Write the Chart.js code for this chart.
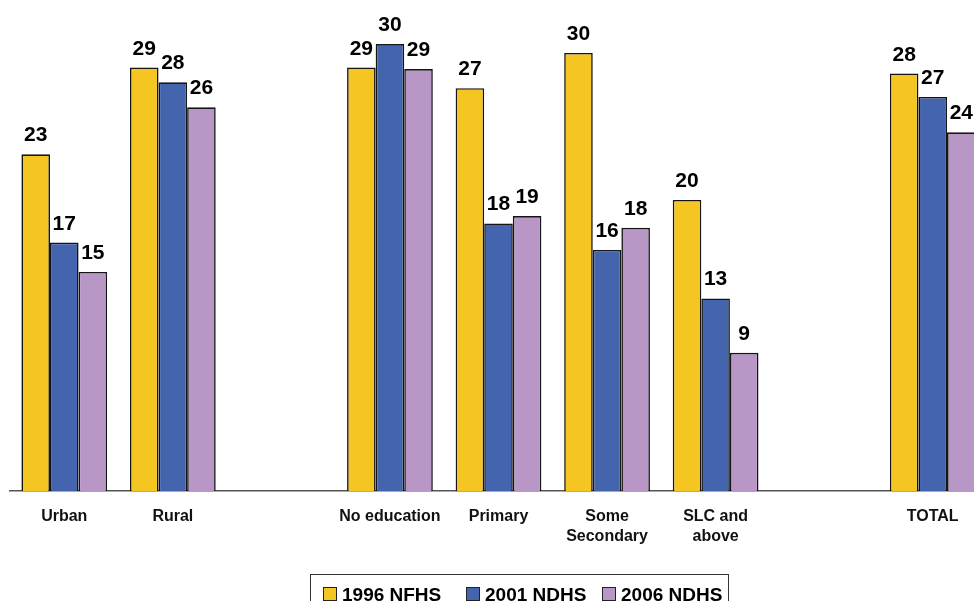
<!DOCTYPE html>
<html>
<head>
<meta charset="utf-8">
<script src="https://cdn.jsdelivr.net/npm/chart.js@4.4.1/dist/chart.umd.min.js"></script>
<style>
    html, body { margin: 0; padding: 0; background: #fff; overflow: hidden; }
    #wrap { position: relative; width: 987px; height: 601px; }
    #legend {
        position: absolute; left: 310px; top: 574px; width: 419px; height: 40px;
        border: 1px solid #333; box-sizing: border-box;
        font: bold 19px "Liberation Sans", Arial, sans-serif; color: #000;
    }
    #legend span.item { position: absolute; top: 9px; white-space: nowrap; }
    #legend i {
        display: inline-block; width: 12px; height: 12px; border: 1px solid #222;
        margin-right: 5px; vertical-align: 0px;
    }
</style>
</head>
<body>
<div id="wrap">
    <canvas id="chart"></canvas>
    <div id="legend"></div>
</div>
<script>
// Categories (empty strings are the spacer slots between groups)
const categories = ['Urban', 'Rural', '', 'No education', 'Primary', ['Some', 'Secondary'], ['SLC and', 'above'], '', 'TOTAL'];

// Series values
const nfhs1996 = [22.9, 28.8, null, 28.8, 27.4, 29.8, 19.8, null, 28.4];
const ndhs2001 = [16.9, 27.8, null, 30.4, 18.2, 16.4, 13.1, null, 26.8];
const ndhs2006 = [14.9, 26.1, null, 28.7, 18.7, 17.9, 9.4, null, 24.4];

const seriesNames = ['1996 NFHS', '2001 NDHS', '2006 NDHS'];

// Colours
const yellow = '#F5C622';
const blue = '#4464AE';
const purple = '#B897C6';
const edge = '#151515';
const font = '"Liberation Sans", Arial, sans-serif';

// Value labels above each bar
const barLabels = {
    id: 'barLabels',
    afterDatasetsDraw(chart) {
        const c = chart.ctx;
        c.save();
        c.font = 'bold 21px ' + font;
        c.fillStyle = '#000';
        c.textAlign = 'center';
        c.textBaseline = 'alphabetic';
        chart.data.datasets.forEach((ds, i) => {
            chart.getDatasetMeta(i).data.forEach((bar, j) => {
                const v = ds.data[j];
                if (v == null) return;
                c.fillText(Math.round(v), bar.x, bar.y - 13);
            });
        });
        c.restore();
    }
};

function drawChart() {
    const ctx = document.getElementById('chart').getContext('2d');
    new Chart(ctx, {
        type: 'bar',
        data: {
            labels: categories,
            datasets: [
                { label: seriesNames[0], data: nfhs1996, backgroundColor: yellow },
                { label: seriesNames[1], data: ndhs2001, backgroundColor: blue },
                { label: seriesNames[2], data: ndhs2006, backgroundColor: purple }
            ].map(d => Object.assign(d, {
                borderColor: edge,
                borderWidth: 1.6,
                categoryPercentage: 0.79,
                barPercentage: 1.0
            }))
        },
        options: {
            responsive: true,
            maintainAspectRatio: false,
            animation: false,
            layout: { padding: { left: 10, right: 0, top: 0, bottom: 0 } },
            scales: {
                x: {
                    grid: { display: false },
                    border: { display: true, color: '#555', width: 1.5 },
                    ticks: {
                        color: '#111',
                        font: { family: font, size: 16, weight: 'bold', lineHeight: 1.25 },
                        padding: 8,
                        maxRotation: 0,
                        autoSkip: false
                    },
                    afterFit: s => { s.height = 110; }
                },
                y: {
                    display: false,
                    min: 0,
                    max: 33.4
                }
            },
            plugins: {
                legend: { display: false },
                tooltip: { enabled: false }
            }
        },
        plugins: [barLabels]
    });
}

// Legend
const legend = document.getElementById('legend');
const swatches = [yellow, blue, purple];
const itemLeft = [12, 155, 291];
seriesNames.forEach((name, i) => {
    const s = document.createElement('span');
    s.className = 'item';
    s.style.left = itemLeft[i] + 'px';
    s.innerHTML = `<i style="background:${swatches[i]}"></i>${name}`;
    legend.appendChild(s);
});

// make sure the font is ready before the canvas text is drawn
document.fonts.load('bold 16px "Liberation Sans"').then(drawChart, drawChart);
</script>
</body>
</html>
